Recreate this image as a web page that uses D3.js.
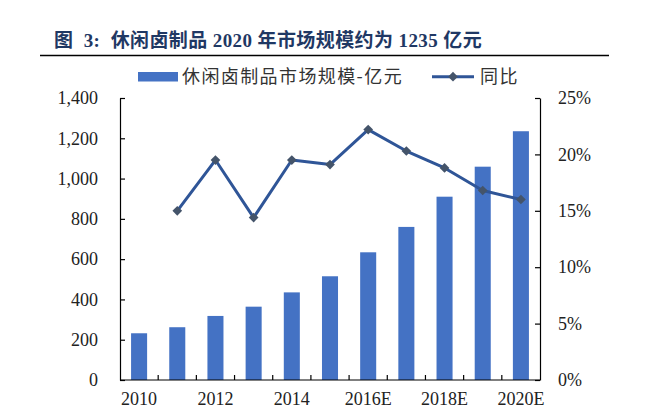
<!DOCTYPE html>
<html>
<head>
<meta charset="utf-8">
<script src="https://cdn.jsdelivr.net/npm/d3@7"></script>
<style>
  body { margin: 0; background: #fff; }
  .tick text { font-family: "Liberation Serif", "Times New Roman", serif; font-size: 18px; fill: #222; }
  .domain, .tick line { stroke: #000; stroke-width: 1.2; }
</style>
</head>
<body>
<div id="chart"></div>
<script>
// chart data
var years = ["2010", "2011", "2012", "2013", "2014", "2015", "2016E", "2017E", "2018E", "2019E", "2020E"];
var marketSize = [232, 262, 318, 364, 435, 515, 634, 760, 910, 1059, 1235];
var growth = [null, 0.150, 0.195, 0.144, 0.195, 0.191, 0.222, 0.203, 0.188, 0.168, 0.160];
var xLabels = ["2010", "2012", "2014", "2016E", "2018E", "2020E"];
var leftTicks = [0, 200, 400, 600, 800, 1000, 1200, 1400];
var rightTicks = [0, 0.05, 0.10, 0.15, 0.20, 0.25];
var titleText = "图  3:  休闲卤制品 2020 年市场规模约为 1235 亿元";
var barName = "休闲卤制品市场规模-亿元";
var lineName = "同比";

function drawChart() {
    var width = 648, height = 420;
    var plot = { left: 120, right: 540, top: 98, bottom: 380 };

    var svg = d3.select("#chart")
        .append("svg")
        .attr("width", width)
        .attr("height", height);

    // Title and rule under it
    svg.append("text")
        .attr("x", 54)
        .attr("y", 47)
        .style("font-family", "'Liberation Serif', 'Noto Sans CJK SC', serif")
        .style("font-weight", "bold")
        .style("font-size", "19px")
        .style("letter-spacing", "0.4px")
        .style("fill", "#1f3864")
        .style("white-space", "pre")
        .attr("xml:space", "preserve")
        .text(titleText);

    svg.append("line")
        .attr("x1", 40).attr("x2", 609)
        .attr("y1", 55.5).attr("y2", 55.5)
        .attr("stroke", "#000")
        .attr("stroke-width", 1.5);

    var x = d3.scaleBand()
        .domain(years)
        .range([plot.left, plot.right])
        .paddingInner(0.58)
        .paddingOuter(0.29);

    var yLeft = d3.scaleLinear()
        .domain([0, 1400])
        .range([plot.bottom, plot.top]);

    var yRight = d3.scaleLinear()
        .domain([0, 0.25])
        .range([plot.bottom, plot.top]);

    // Bars
    svg.append("g").selectAll("rect")
        .data(marketSize)
        .enter()
        .append("rect")
        .attr("x", function (d, i) { return x(years[i]); })
        .attr("y", function (d) { return yLeft(d); })
        .attr("width", x.bandwidth())
        .attr("height", function (d) { return yLeft(0) - yLeft(d); })
        .attr("fill", "#4472c4");

    // Left axis
    svg.append("g")
        .attr("transform", "translate(" + plot.left + ",0)")
        .call(d3.axisLeft(yLeft).tickValues(leftTicks).tickFormat(d3.format(","))
            .tickSizeInner(-5).tickSizeOuter(0).tickPadding(22));

    // Right axis
    svg.append("g")
        .attr("transform", "translate(" + plot.right + ",0)")
        .call(d3.axisRight(yRight).tickValues(rightTicks).tickFormat(d3.format(".0%"))
            .tickSizeInner(-5).tickSizeOuter(0).tickPadding(18));

    // X axis: labels every other year, ticks between bars
    var xAxis = svg.append("g")
        .attr("transform", "translate(0," + plot.bottom + ")")
        .call(d3.axisBottom(x).tickValues(xLabels).tickSize(0).tickPadding(12));
    xAxis.select(".domain").attr("d", "M" + plot.left + ",0H" + plot.right);

    svg.append("g").selectAll("line")
        .data(years.slice(1))
        .enter()
        .append("line")
        .attr("x1", function (d) { return x(d) - x.step() * x.paddingInner() / 2; })
        .attr("x2", function (d) { return x(d) - x.step() * x.paddingInner() / 2; })
        .attr("y1", plot.bottom)
        .attr("y2", plot.bottom - 5)
        .attr("stroke", "#000")
        .attr("stroke-width", 1.2);

    // Growth line
    var pts = growth.map(function (g, i) { return { year: years[i], g: g }; })
        .filter(function (d) { return d.g !== null; });

    var line = d3.line()
        .x(function (d) { return x(d.year) + x.bandwidth() / 2; })
        .y(function (d) { return yRight(d.g); });

    svg.append("path")
        .datum(pts)
        .attr("d", line)
        .attr("fill", "none")
        .attr("stroke", "#2f5597")
        .attr("stroke-width", 3)
        .attr("stroke-linejoin", "round");

    var diamond = d3.symbol().type(d3.symbolDiamond2).size(60);
    svg.append("g").selectAll("path")
        .data(pts)
        .enter()
        .append("path")
        .attr("d", diamond)
        .attr("transform", function (d) {
            return "translate(" + (x(d.year) + x.bandwidth() / 2) + "," + yRight(d.g) + ")";
        })
        .attr("fill", "#44546a");

    // Legend
    var legend = svg.append("g");
    legend.append("rect")
        .attr("x", 138).attr("y", 72)
        .attr("width", 40).attr("height", 9.5)
        .attr("fill", "#4472c4");
    legend.append("text")
        .attr("x", 182).attr("y", 83)
        .style("font-family", "'Noto Sans CJK SC', sans-serif")
        .style("font-size", "18px")
        .style("letter-spacing", "1.4px")
        .style("fill", "#333")
        .text(barName);
    legend.append("line")
        .attr("x1", 432).attr("x2", 474)
        .attr("y1", 76.7).attr("y2", 76.7)
        .attr("stroke", "#2f5597")
        .attr("stroke-width", 3);
    legend.append("path")
        .attr("d", diamond)
        .attr("transform", "translate(453,76.7)")
        .attr("fill", "#44546a");
    legend.append("text")
        .attr("x", 480).attr("y", 83)
        .style("font-family", "'Noto Sans CJK SC', sans-serif")
        .style("font-size", "18px")
        .style("letter-spacing", "1.5px")
        .style("fill", "#333")
        .text(lineName);
}

drawChart();
</script>
</body>
</html>
